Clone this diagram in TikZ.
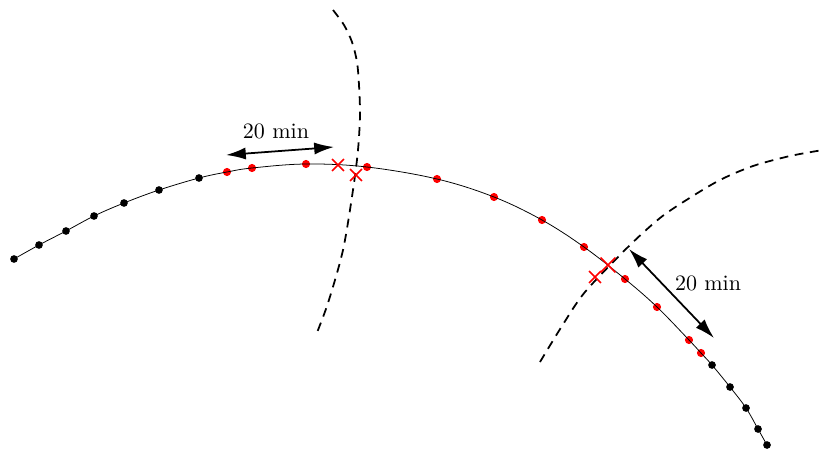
\documentclass[tikz,border=0pt]{standalone}
\usetikzlibrary{arrows.meta,shapes.misc}
\tikzset{
  bdot/.style={circle,fill=black,inner sep=0pt,minimum size=3.5pt},
  rdot/.style={circle,fill=red,inner sep=0pt,minimum size=3.7pt},
  xmark/.style={cross out,draw=red,line width=0.8pt,inner sep=0pt,minimum size=4.6pt},
  bigx/.style={xmark,minimum size=6pt},
  track/.style={line width=0.35pt},
  front/.style={dash pattern=on 4pt off 3pt,line width=0.8pt},
  span/.style={line width=0.8pt,{Latex[length=9pt,width=5.5pt]}-{Latex[length=9pt,width=5.5pt]}},
}
\begin{document}
\begin{tikzpicture}[x=0.4545pt,y=-0.4545pt]
\useasboundingbox (0,0) rectangle (824,450);
% dots
\node[bdot] (p1) at (14,259) {};
\node[bdot] (p2) at (39,245) {};
\node[bdot] (p3) at (66,231) {};
\node[bdot] (p4) at (94,216) {};
\node[bdot] (p5) at (124,203) {};
\node[bdot] (p6) at (159,190) {};
\node[bdot] (p7) at (199,178) {};
\node[rdot] (p8) at (227,172) {};
\node[rdot] (p9) at (252,168) {};
\node[rdot] (p10) at (306,164) {};
\node[rdot] (p11) at (367,167) {};
\node[rdot] (p12) at (437,179) {};
\node[rdot] (p13) at (494,197) {};
\node[rdot] (p14) at (542,220) {};
\node[rdot] (p15) at (584,247) {};
\node[rdot] (p16) at (625,279) {};
\node[rdot] (p17) at (657,307) {};
\node[rdot] (p18) at (689,340) {};
\node[rdot] (p19) at (701,353) {};
\node[bdot] (p20) at (712,365) {};
\node[bdot] (p21) at (730,387) {};
\node[bdot] (p22) at (746,408) {};
\node[bdot] (p23) at (758,429) {};
\node[bdot] (p24) at (767,445) {};
% track
\draw[track] plot[smooth,tension=0.6] coordinates {(p1) (p2) (p3) (p4) (p5) (p6) (p7) (p8) (p9) (p10) (p11) (p12) (p13) (p14) (p15) (p16) (p17) (p18) (p19) (p20) (p21) (p22) (p23) (p24)};
% fronts
\draw[front] plot[smooth] coordinates {(333,10) (344,25) (352,42) (357,62) (359,85) (360,115) (358,150) (353,190) (343,250) (328,303) (316,335)};
\draw[front] plot[smooth] coordinates {(540,362) (562,326) (585,292) (628,247) (660,218) (688,199) (720,180) (753,166) (790,156) (823,150)};
% crosses
\node[xmark] (c1) at (338,165) {};
\node[xmark] (c2) at (356,175) {};
\node[bigx] (c3) at (608,265) {};
\node[xmark] (c4) at (595,277) {};
% spans
\coordinate (a1) at (226,155);
\coordinate (a2) at (334,147);
\coordinate (b1) at (629,249);
\coordinate (b2) at (714,338);
\draw[span] (a1) -- (a2);
\draw[span] (b1) -- (b2);
\node (l1) at (276,131) {20 min};
\node (l2) at (708,283) {20 min};
\end{tikzpicture}
\end{document}
